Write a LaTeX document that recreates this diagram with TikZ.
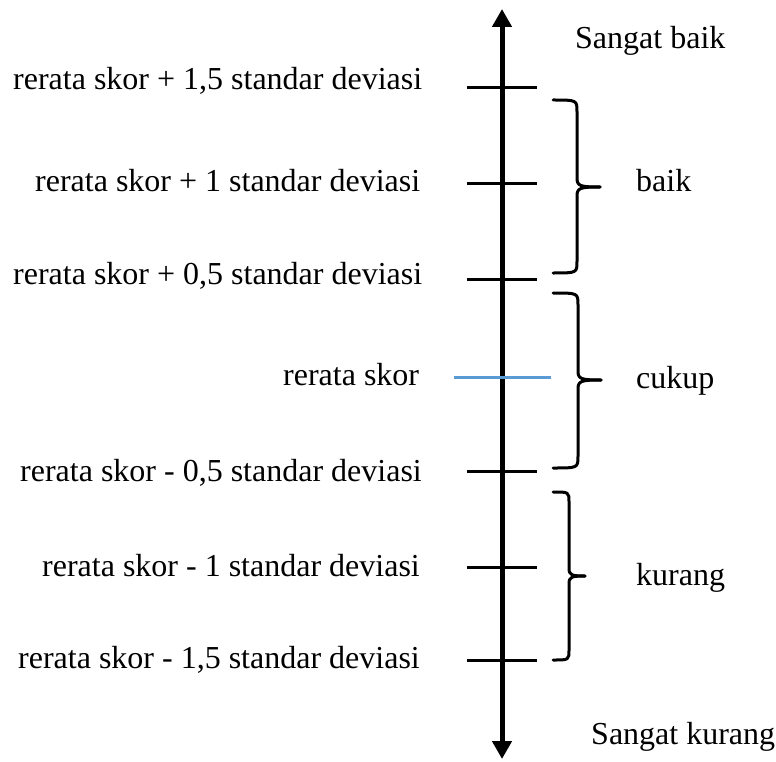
\documentclass[tikz,border=0pt]{standalone}
\usepackage{fontspec}
\setmainfont{Liberation Serif}
\usetikzlibrary{arrows.meta}
\definecolor{meanblue}{HTML}{5B9BD5}
\begin{document}
\begin{tikzpicture}[x=1pt,y=-1pt,
  lbl/.style={inner sep=0pt,anchor=base west,font=\fontsize{32}{38}\selectfont},
  tick/.style={line width=3pt},
  bracepath/.style={line width=3pt,line cap=round,line join=round},
  axisline/.style={line width=5pt,{Triangle[width=19pt,length=18pt]}-{Triangle[width=19pt,length=18pt]}}]
\useasboundingbox (0,0) rectangle (776,762);

% vertical scale axis
\coordinate (top) at (502,9);
\coordinate (bot) at (502,759);
\draw[axisline] (top) -- (bot);

% ticks
\foreach \n/\y in {a/88,b/184,c/279,e/471,f/567,g/660}{
  \coordinate (\n l) at (467,\y);
  \coordinate (\n r) at (537,\y);
  \draw[tick] (\n l) -- (\n r);
}
\coordinate (dl) at (454,377);
\coordinate (dr) at (551,377);
\draw[tick,meanblue] (dl) -- (dr);

% left labels
\node[lbl] (la) at (13,90) {rerata skor + 1,5 standar deviasi};
\node[lbl] (lb) at (35,192) {rerata skor + 1 standar deviasi};
\node[lbl] (lc) at (13,284) {rerata skor + 0,5 standar deviasi};
\node[lbl] (ld) at (283,385) {rerata skor};
\node[lbl] (le) at (20,481) {rerata skor - 0,5 standar deviasi};
\node[lbl] (lf) at (42,576) {rerata skor - 1 standar deviasi};
\node[lbl] (lg) at (18,668) {rerata skor - 1,5 standar deviasi};

% right labels
\node[lbl] (sb) at (575,49) {Sangat baik};
\node[lbl] (rb) at (636,192) {baik};
\node[lbl] (rc) at (636,388) {cukup};
\node[lbl] (rk) at (636,585) {kurang};
\node[lbl] (sk) at (591,744) {Sangat kurang};

% braces
\draw[bracepath] (553,100) .. controls (577,100) and (577,100) .. (577,112)
  -- (577,178) .. controls (577,186) and (580,187) .. (600,187);
\draw[bracepath] (553,273) .. controls (577,273) and (577,273) .. (577,261)
  -- (577,196) .. controls (577,188) and (580,187) .. (600,187);

\draw[bracepath] (553,293) .. controls (578,293) and (578,293) .. (578,305)
  -- (578,371) .. controls (578,379) and (581,380) .. (601,380);
\draw[bracepath] (553,468) .. controls (578,468) and (578,468) .. (578,456)
  -- (578,389) .. controls (578,381) and (581,380) .. (601,380);

\draw[bracepath] (553,492) .. controls (569,492) and (569,492) .. (569,502)
  -- (569,568) .. controls (569,575) and (571,576) .. (585,576);
\draw[bracepath] (553,660) .. controls (569,660) and (569,660) .. (569,650)
  -- (569,584) .. controls (569,577) and (571,576) .. (585,576);
\end{tikzpicture}
\end{document}
